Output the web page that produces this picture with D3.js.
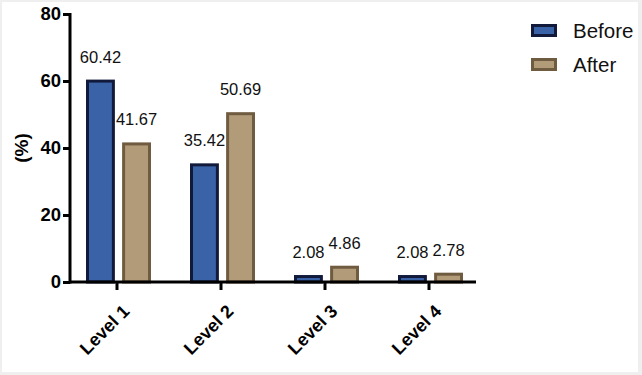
<!DOCTYPE html>
<html>
<head>
<meta charset="utf-8">
<script src="https://cdn.jsdelivr.net/npm/d3@7"></script>
<style>
  body { margin: 0; background: #efefef; }
  svg { display: block; font-family: "Liberation Sans", Arial, sans-serif; }
</style>
</head>
<body>
<svg id="chart" width="642" height="375"></svg>
<script>
const levels = ["Level 1", "Level 2", "Level 3", "Level 4"]
const seriesNames = ["Before", "After"]
const before = [60.42, 35.42, 2.08, 2.08]
const after = [41.67, 50.69, 4.86, 2.78]
const yTicks = [0, 20, 40, 60, 80]

const fills = { Before: "#3a62a7", After: "#b29b79" }
const strokes = { Before: "#121a3c", After: "#6f5b3f" }
const FONT = "Liberation Sans, Arial, sans-serif"

const svg = d3.select("#chart")
svg.append("rect").attr("x", 2).attr("y", 2).attr("width", 636).attr("height", 370).attr("fill", "#fff")

const x = d3.scaleBand().domain(levels).range([65, 481])
const y = d3.scaleLinear().domain([0, 80]).range([282, 14])
const xs = d3.scaleBand().domain(seriesNames).range([-31, 34]).paddingInner(0.2)

const rows = levels.map((l, i) => ({ level: l, values: [
  { key: "Before", v: before[i] }, { key: "After", v: after[i] }] }))

const g = svg.append("g")
const groups = g.selectAll("g.lvl").data(rows).join("g")
  .attr("class", "lvl")
  .attr("transform", d => `translate(${x(d.level) + x.bandwidth() / 2},0)`)

groups.selectAll("rect").data(d => d.values).join("rect")
  .attr("x", d => xs(d.key) + 1.5)
  .attr("width", xs.bandwidth() - 3)
  .attr("y", d => y(d.v) + 1.5)
  .attr("height", d => Math.max(0, y(0) - y(d.v) - 1.5))
  .attr("fill", d => fills[d.key])
  .attr("stroke", d => strokes[d.key])
  .attr("stroke-width", 3)

groups.selectAll("text").data(d => d.values).join("text")
  .attr("x", d => xs(d.key) + xs.bandwidth() / 2)
  .attr("y", d => y(d.v) - 17)
  .attr("text-anchor", "middle")
  .style("font-size", "16.5px")
  .attr("fill", "#111")
  .text(d => d.v.toFixed(2))

// y axis
const yAxis = svg.append("g").attr("transform", "translate(70,0)")
  .call(d3.axisLeft(y).tickValues(yTicks).tickSize(7).tickPadding(2))
yAxis.select(".domain").attr("stroke", "#000").attr("stroke-width", 3)
  .attr("d", `M0,${y(80) - 1}V${y(0) + 1.5}`)
yAxis.selectAll(".tick line").attr("stroke", "#000").attr("stroke-width", 3)
yAxis.selectAll(".tick text").style("font-size", "18.5px").style("font-weight", "bold")
  .style("font-family", FONT).attr("fill", "#000")

// x axis
const xAxis = svg.append("g").attr("transform", `translate(0,${y(0)})`)
  .call(d3.axisBottom(x).tickSize(8).tickPadding(4))
xAxis.select(".domain").attr("stroke", "#000").attr("stroke-width", 3)
  .attr("d", "M69,0H476")
xAxis.selectAll(".tick line").attr("stroke", "#000").attr("stroke-width", 3)
xAxis.selectAll(".tick text")
  .style("font-size", "18px").style("font-weight", "bold")
  .style("font-family", FONT).attr("fill", "#000")
  .attr("text-anchor", "end")
  .attr("x", 0).attr("y", 0)
  .attr("dy", "0.35em")
  .attr("transform", "translate(9,26) rotate(-45)")

svg.append("text")
  .attr("transform", `translate(28,${y(40)}) rotate(-90)`)
  .attr("text-anchor", "middle")
  .style("font-size", "19px").style("font-weight", "bold")
  .text("(%)")

// legend
const legend = svg.append("g").attr("transform", "translate(531,24)")
const li = legend.selectAll("g").data(seriesNames).join("g")
  .attr("transform", (d, i) => `translate(0,${i * 34})`)
li.append("rect").attr("x", 1.5).attr("y", 1.5).attr("width", 23).attr("height", 10)
  .attr("fill", d => fills[d]).attr("stroke", d => strokes[d]).attr("stroke-width", 3)
li.append("text").attr("x", 42).attr("y", 7).attr("dy", "0.35em")
  .style("font-size", "20.5px").attr("fill", "#111").text(d => d)
</script>
</body>
</html>
